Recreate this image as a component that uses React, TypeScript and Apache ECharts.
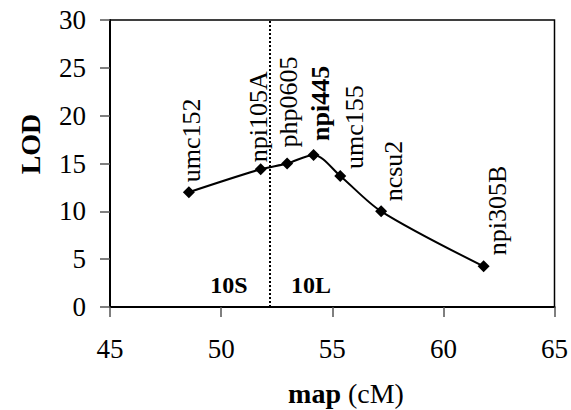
import React, { useEffect, useRef } from "react";
import * as echarts from "echarts";

const markers = ["umc152", "npi105A", "php0605", "npi445", "umc155", "ncsu2", "npi305B"];
const mapPos = [48.55, 51.78, 52.97, 54.16, 55.36, 57.2, 61.81];
const lodValues = [12.0, 14.4, 15.0, 15.9, 13.7, 10.0, 4.25];
const boldMarker = "npi445";
const boundary = 52.2;
const armLabels = ["10S", "10L"];

// label layout tweaks, screen [dx, dy]
const labelShifts: [number, number][] = [
  [3, -4],
  [-2, -1],
  [1, -10],
  [7, -8],
  [14, -1],
  [12, -4],
  [14, -5],
];

const FONT = "'Liberation Serif', 'Times New Roman', serif";

export default function App() {
  const ref = useRef<HTMLDivElement>(null);
  useEffect(() => {
    if (!ref.current) return;
    const chart = echarts.init(ref.current, undefined, { renderer: "svg" });
    const data = mapPos.map((x, i) => ({
      value: [x, lodValues[i]],
      name: markers[i],
      label: {
        // offsets are applied in the rotated label frame
        offset: [-labelShifts[i][1], labelShifts[i][0]],
        fontWeight: markers[i] === boldMarker ? "bold" : "normal",
      },
    }));
    chart.setOption({
      animation: false,
      backgroundColor: "#fff",
      grid: {
        left: 110,
        top: 20,
        right: 12,
        bottom: 103,
        show: true,
        borderColor: "#000",
        borderWidth: 1.5,
        backgroundColor: "transparent",
      },
      xAxis: {
        type: "value",
        min: 45,
        max: 65,
        interval: 5,
        axisLine: { show: true, onZero: false, lineStyle: { color: "#000", width: 2 } },
        axisTick: { show: true, length: 10, lineStyle: { color: "#555", width: 1.5 } },
        splitLine: { show: false },
        axisLabel: { color: "#000", fontFamily: FONT, fontSize: 27, margin: 28 },
      },
      yAxis: {
        type: "value",
        min: 0,
        max: 30,
        interval: 5,
        axisLine: { show: true, onZero: false, lineStyle: { color: "#000", width: 2 } },
        axisTick: { show: true, length: 10, lineStyle: { color: "#555", width: 1.5 } },
        splitLine: { show: false },
        axisLabel: { color: "#000", fontFamily: FONT, fontSize: 27, margin: 24 },
      },
      series: [
        {
          type: "line",
          data,
          smooth: 0.3,
          symbol: "diamond",
          symbolSize: 12,
          itemStyle: { color: "#000" },
          lineStyle: { color: "#000", width: 2 },
          label: {
            show: true,
            formatter: "{b}",
            position: "top",
            distance: 0,
            rotate: 90,
            align: "left",
            verticalAlign: "middle",
            color: "#000",
            fontFamily: FONT,
            fontSize: 26,
          },
          markLine: {
            silent: true,
            symbol: "none",
            label: { show: false },
            lineStyle: { color: "#000", type: "dotted", width: 2 },
            data: [{ xAxis: boundary }],
          },
        },
      ],
      graphic: [
        {
          type: "text",
          x: 30,
          y: 144,
          rotation: Math.PI / 2,
          style: {
            text: "LOD",
            fontFamily: FONT,
            fontSize: 28,
            fontWeight: "bold",
            fill: "#000",
            align: "center",
            verticalAlign: "middle",
          },
        },
        {
          type: "text",
          x: 346,
          y: 393,
          style: {
            text: "{b|map}{r|\u00a0(cM)}",
            align: "center",
            verticalAlign: "middle",
            fill: "#000",
            rich: {
              b: { fontFamily: FONT, fontSize: 28, fontWeight: "bold", fill: "#000" },
              r: { fontFamily: FONT, fontSize: 28, fill: "#000" },
            },
          },
        },
        {
          type: "text",
          x: 229,
          y: 285,
          style: {
            text: armLabels[0],
            fontFamily: FONT,
            fontSize: 24,
            fontWeight: "bold",
            fill: "#000",
            align: "center",
            verticalAlign: "middle",
          },
        },
        {
          type: "text",
          x: 311,
          y: 285,
          style: {
            text: armLabels[1],
            fontFamily: FONT,
            fontSize: 24,
            fontWeight: "bold",
            fill: "#000",
            align: "center",
            verticalAlign: "middle",
          },
        },
      ],
    });
    return () => chart.dispose();
  }, []);
  return (
    <div
      ref={ref}
      style={{ position: "fixed", left: 0, top: 0, width: 571, height: 410, background: "#fff" }}
    />
  );
}
